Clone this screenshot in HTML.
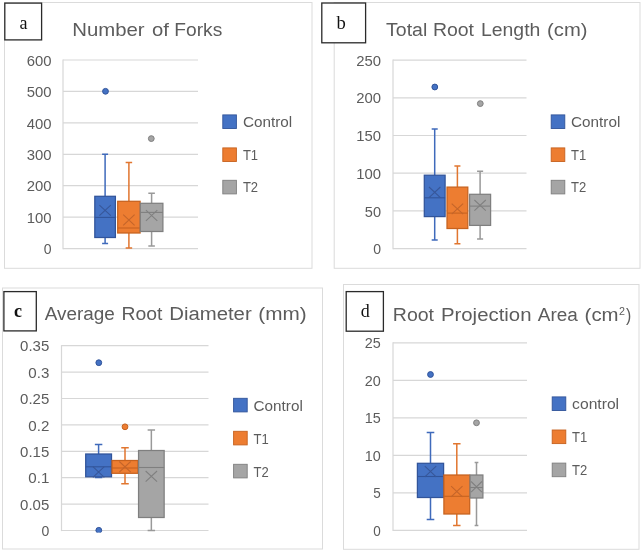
<!DOCTYPE html>
<html><head><meta charset="utf-8"><title>Root trait box plots</title>
<style>
html,body{margin:0;padding:0;background:#fff;}
body{width:642px;height:553px;overflow:hidden;font-family:"Liberation Sans",sans-serif;}
svg{display:block;will-change:transform;}
</style></head><body>
<svg width="642" height="553" viewBox="0 0 642 553">
<rect width="642" height="553" fill="#fff"/>
<defs><clipPath id="cc"><rect x="90" y="520" width="20" height="12.4"/></clipPath></defs>
<rect x="4.5" y="2.5" width="307.5" height="265.8" fill="#fff" stroke="#dbdbdb" stroke-width="1"/>
<rect x="4.8" y="3.1" width="36.8" height="36.8" fill="#fff" stroke="#2a2a2a" stroke-width="1.3"/>
<text x="23.6" y="28.9" font-size="18" font-family="Liberation Serif, serif" fill="#111" text-anchor="middle">a</text>
<text x="72.23" y="36.1" font-size="19.0" font-family="Liberation Sans, sans-serif" fill="#5c5c5c" text-anchor="start" textLength="72.39" lengthAdjust="spacingAndGlyphs">Number</text>
<text x="151.95" y="36.1" font-size="19.0" font-family="Liberation Sans, sans-serif" fill="#5c5c5c" text-anchor="start" textLength="16.91" lengthAdjust="spacingAndGlyphs">of</text>
<text x="174.33" y="36.1" font-size="19.0" font-family="Liberation Sans, sans-serif" fill="#5c5c5c" text-anchor="start" textLength="47.96" lengthAdjust="spacingAndGlyphs">Forks</text>
<path d="M63 60.0H198" stroke="#d7d7d7" stroke-width="1.2"/>
<path d="M63 91.43H198" stroke="#d7d7d7" stroke-width="1.2"/>
<path d="M63 122.86H198" stroke="#d7d7d7" stroke-width="1.2"/>
<path d="M63 154.29H198" stroke="#d7d7d7" stroke-width="1.2"/>
<path d="M63 185.72H198" stroke="#d7d7d7" stroke-width="1.2"/>
<path d="M63 217.15H198" stroke="#d7d7d7" stroke-width="1.2"/>
<path d="M63 248.58H198" stroke="#d7d7d7" stroke-width="1.2"/>
<path d="M63 59.4V249.18" stroke="#d7d7d7" stroke-width="1.2"/>
<text x="51.5" y="65.68" font-size="14.2" font-family="Liberation Sans, sans-serif" fill="#5c5c5c" text-anchor="end" textLength="24.8" lengthAdjust="spacingAndGlyphs">600</text>
<text x="51.5" y="97.11" font-size="14.2" font-family="Liberation Sans, sans-serif" fill="#5c5c5c" text-anchor="end" textLength="24.8" lengthAdjust="spacingAndGlyphs">500</text>
<text x="51.5" y="128.54" font-size="14.2" font-family="Liberation Sans, sans-serif" fill="#5c5c5c" text-anchor="end" textLength="24.8" lengthAdjust="spacingAndGlyphs">400</text>
<text x="51.5" y="159.97" font-size="14.2" font-family="Liberation Sans, sans-serif" fill="#5c5c5c" text-anchor="end" textLength="24.8" lengthAdjust="spacingAndGlyphs">300</text>
<text x="51.5" y="191.4" font-size="14.2" font-family="Liberation Sans, sans-serif" fill="#5c5c5c" text-anchor="end" textLength="24.8" lengthAdjust="spacingAndGlyphs">200</text>
<text x="51.5" y="222.83" font-size="14.2" font-family="Liberation Sans, sans-serif" fill="#5c5c5c" text-anchor="end" textLength="24.8" lengthAdjust="spacingAndGlyphs">100</text>
<text x="51.5" y="254.26" font-size="14.2" font-family="Liberation Sans, sans-serif" fill="#5c5c5c" text-anchor="end" textLength="7.8" lengthAdjust="spacingAndGlyphs">0</text>
<path d="M105.1 154.3V196.3M105.1 237.5V243.5M102.11 154.3H108.09M102.11 243.5H108.09" stroke="#3f6abb" stroke-width="1.5" fill="none"/>
<rect x="94.8" y="196.3" width="20.6" height="41.2" fill="#4472c4" stroke="#31549a" stroke-width="1.25"/>
<path d="M94.8 217.4H115.4" stroke="#31549a" stroke-width="1.1"/>
<path d="M99.4 205.1L110.8 215.7M99.4 215.7L110.8 205.1" stroke="#37579a" stroke-width="1.1" fill="none"/>
<circle cx="105.5" cy="91.3" r="2.9" fill="#4472c4" stroke="#31549a" stroke-width="1"/>
<path d="M128.9 162.4V201.3M128.9 233V248M125.65 162.4H132.15M125.65 248H132.15" stroke="#e1762f" stroke-width="1.5" fill="none"/>
<rect x="117.7" y="201.3" width="22.4" height="31.7" fill="#ed7d31" stroke="#c6621f" stroke-width="1.25"/>
<path d="M117.7 228H140.1" stroke="#c6621f" stroke-width="1.1"/>
<path d="M123.2 214.7L134.6 225.3M123.2 225.3L134.6 214.7" stroke="#c4652a" stroke-width="1.1" fill="none"/>
<path d="M151.6 193.3V203.3M151.6 231.5V246M148.32 193.3H154.88M148.32 246H154.88" stroke="#999999" stroke-width="1.5" fill="none"/>
<rect x="140.3" y="203.3" width="22.6" height="28.2" fill="#a5a5a5" stroke="#7f7f7f" stroke-width="1.25"/>
<path d="M140.3 212.4H162.9" stroke="#7f7f7f" stroke-width="1.1"/>
<path d="M145.9 210.2L157.3 220.8M145.9 220.8L157.3 210.2" stroke="#808080" stroke-width="1.1" fill="none"/>
<circle cx="151.3" cy="138.6" r="2.9" fill="#a5a5a5" stroke="#7f7f7f" stroke-width="1"/>
<rect x="222.8" y="114.9" width="13.6" height="13.6" fill="#4472c4" stroke="#31549a" stroke-width="0.9"/>
<text x="242.9" y="126.7" font-size="15.3" font-family="Liberation Sans, sans-serif" fill="#5c5c5c" text-anchor="start" textLength="49.2" lengthAdjust="spacingAndGlyphs">Control</text>
<rect x="222.8" y="147.9" width="13.6" height="13.6" fill="#ed7d31" stroke="#c6621f" stroke-width="0.9"/>
<text x="242.9" y="159.7" font-size="15.3" font-family="Liberation Sans, sans-serif" fill="#5c5c5c" text-anchor="start" textLength="15.2" lengthAdjust="spacingAndGlyphs">T1</text>
<rect x="222.8" y="180.3" width="13.6" height="13.6" fill="#a5a5a5" stroke="#7f7f7f" stroke-width="0.9"/>
<text x="242.9" y="192.1" font-size="15.3" font-family="Liberation Sans, sans-serif" fill="#5c5c5c" text-anchor="start" textLength="15.2" lengthAdjust="spacingAndGlyphs">T2</text>
<rect x="334.2" y="2.5" width="305.8" height="265.8" fill="#fff" stroke="#dbdbdb" stroke-width="1"/>
<rect x="321.8" y="3.0" width="43.8" height="39.8" fill="#fff" stroke="#2a2a2a" stroke-width="1.3"/>
<text x="341.2" y="28.7" font-size="18.6" font-family="Liberation Serif, serif" fill="#111" text-anchor="middle">b</text>
<text x="386.07" y="36" font-size="19.2" font-family="Liberation Sans, sans-serif" fill="#5c5c5c" text-anchor="start" textLength="41.22" lengthAdjust="spacingAndGlyphs">Total</text>
<text x="432.9" y="36" font-size="19.2" font-family="Liberation Sans, sans-serif" fill="#5c5c5c" text-anchor="start" textLength="41.14" lengthAdjust="spacingAndGlyphs">Root</text>
<text x="480.91" y="36" font-size="19.2" font-family="Liberation Sans, sans-serif" fill="#5c5c5c" text-anchor="start" textLength="59.45" lengthAdjust="spacingAndGlyphs">Length</text>
<text x="547.05" y="36" font-size="19.2" font-family="Liberation Sans, sans-serif" fill="#5c5c5c" text-anchor="start" textLength="40.41" lengthAdjust="spacingAndGlyphs">(cm)</text>
<path d="M393 60.1H526.5" stroke="#d7d7d7" stroke-width="1.2"/>
<path d="M393 97.8H526.5" stroke="#d7d7d7" stroke-width="1.2"/>
<path d="M393 135.5H526.5" stroke="#d7d7d7" stroke-width="1.2"/>
<path d="M393 173.2H526.5" stroke="#d7d7d7" stroke-width="1.2"/>
<path d="M393 210.9H526.5" stroke="#d7d7d7" stroke-width="1.2"/>
<path d="M393 248.6H526.5" stroke="#d7d7d7" stroke-width="1.2"/>
<path d="M393 59.5V249.2" stroke="#d7d7d7" stroke-width="1.2"/>
<text x="381" y="65.78" font-size="14.2" font-family="Liberation Sans, sans-serif" fill="#5c5c5c" text-anchor="end" textLength="24.8" lengthAdjust="spacingAndGlyphs">250</text>
<text x="381" y="103.48" font-size="14.2" font-family="Liberation Sans, sans-serif" fill="#5c5c5c" text-anchor="end" textLength="24.8" lengthAdjust="spacingAndGlyphs">200</text>
<text x="381" y="141.18" font-size="14.2" font-family="Liberation Sans, sans-serif" fill="#5c5c5c" text-anchor="end" textLength="24.8" lengthAdjust="spacingAndGlyphs">150</text>
<text x="381" y="178.88" font-size="14.2" font-family="Liberation Sans, sans-serif" fill="#5c5c5c" text-anchor="end" textLength="24.8" lengthAdjust="spacingAndGlyphs">100</text>
<text x="381" y="216.58" font-size="14.2" font-family="Liberation Sans, sans-serif" fill="#5c5c5c" text-anchor="end" textLength="16.2" lengthAdjust="spacingAndGlyphs">50</text>
<text x="381" y="254.28" font-size="14.2" font-family="Liberation Sans, sans-serif" fill="#5c5c5c" text-anchor="end" textLength="7.8" lengthAdjust="spacingAndGlyphs">0</text>
<path d="M434.7 128.9V175.2M434.7 216.6V240M431.68 128.9H437.72M431.68 240H437.72" stroke="#3f6abb" stroke-width="1.5" fill="none"/>
<rect x="424.3" y="175.2" width="20.8" height="41.4" fill="#4472c4" stroke="#31549a" stroke-width="1.25"/>
<path d="M424.3 197.8H445.1" stroke="#31549a" stroke-width="1.1"/>
<path d="M429.0 187.0L440.4 197.6M429.0 197.6L440.4 187.0" stroke="#37579a" stroke-width="1.1" fill="none"/>
<circle cx="434.8" cy="87" r="2.9" fill="#4472c4" stroke="#31549a" stroke-width="1"/>
<path d="M457.4 165.9V187.1M457.4 228.5V243.8M454.38 165.9H460.42M454.38 243.8H460.42" stroke="#e1762f" stroke-width="1.5" fill="none"/>
<rect x="447.0" y="187.1" width="20.8" height="41.4" fill="#ed7d31" stroke="#c6621f" stroke-width="1.25"/>
<path d="M447.0 213.1H467.8" stroke="#c6621f" stroke-width="1.1"/>
<path d="M451.7 203.6L463.1 214.2M451.7 214.2L463.1 203.6" stroke="#c4652a" stroke-width="1.1" fill="none"/>
<path d="M480.1 171.2V194.3M480.1 225.4V239M477.06 171.2H483.14M477.06 239H483.14" stroke="#999999" stroke-width="1.5" fill="none"/>
<rect x="469.6" y="194.3" width="21.0" height="31.1" fill="#a5a5a5" stroke="#7f7f7f" stroke-width="1.25"/>
<path d="M469.6 206.1H490.6" stroke="#7f7f7f" stroke-width="1.1"/>
<path d="M474.4 200.0L485.8 210.6M474.4 210.6L485.8 200.0" stroke="#808080" stroke-width="1.1" fill="none"/>
<circle cx="480.3" cy="103.6" r="2.9" fill="#a5a5a5" stroke="#7f7f7f" stroke-width="1"/>
<rect x="551.2" y="114.9" width="13.6" height="13.6" fill="#4472c4" stroke="#31549a" stroke-width="0.9"/>
<text x="571.1" y="126.7" font-size="15.3" font-family="Liberation Sans, sans-serif" fill="#5c5c5c" text-anchor="start" textLength="49.2" lengthAdjust="spacingAndGlyphs">Control</text>
<rect x="551.2" y="147.9" width="13.6" height="13.6" fill="#ed7d31" stroke="#c6621f" stroke-width="0.9"/>
<text x="571.1" y="159.7" font-size="15.3" font-family="Liberation Sans, sans-serif" fill="#5c5c5c" text-anchor="start" textLength="15.2" lengthAdjust="spacingAndGlyphs">T1</text>
<rect x="551.2" y="180.3" width="13.6" height="13.6" fill="#a5a5a5" stroke="#7f7f7f" stroke-width="0.9"/>
<text x="571.1" y="192.1" font-size="15.3" font-family="Liberation Sans, sans-serif" fill="#5c5c5c" text-anchor="start" textLength="15.2" lengthAdjust="spacingAndGlyphs">T2</text>
<rect x="2.5" y="288" width="320.0" height="261" fill="#fff" stroke="#dbdbdb" stroke-width="1"/>
<rect x="3.9" y="291.6" width="32.4" height="39.3" fill="#fff" stroke="#2a2a2a" stroke-width="1.3"/>
<text x="18.1" y="317" font-size="18" font-family="Liberation Serif, serif" fill="#111" text-anchor="middle" font-weight="bold">c</text>
<text x="44.76" y="320.2" font-size="19.2" font-family="Liberation Sans, sans-serif" fill="#5c5c5c" text-anchor="start" textLength="70.08" lengthAdjust="spacingAndGlyphs">Average</text>
<text x="121.51" y="320.2" font-size="19.2" font-family="Liberation Sans, sans-serif" fill="#5c5c5c" text-anchor="start" textLength="40.93" lengthAdjust="spacingAndGlyphs">Root</text>
<text x="169.23" y="320.2" font-size="19.2" font-family="Liberation Sans, sans-serif" fill="#5c5c5c" text-anchor="start" textLength="82.49" lengthAdjust="spacingAndGlyphs">Diameter</text>
<text x="258.31" y="320.2" font-size="19.2" font-family="Liberation Sans, sans-serif" fill="#5c5c5c" text-anchor="start" textLength="48.37" lengthAdjust="spacingAndGlyphs">(mm)</text>
<path d="M61.5 345.7H208.5" stroke="#d7d7d7" stroke-width="1.2"/>
<path d="M61.5 372.1H208.5" stroke="#d7d7d7" stroke-width="1.2"/>
<path d="M61.5 398.5H208.5" stroke="#d7d7d7" stroke-width="1.2"/>
<path d="M61.5 424.9H208.5" stroke="#d7d7d7" stroke-width="1.2"/>
<path d="M61.5 451.3H208.5" stroke="#d7d7d7" stroke-width="1.2"/>
<path d="M61.5 477.7H208.5" stroke="#d7d7d7" stroke-width="1.2"/>
<path d="M61.5 504.1H208.5" stroke="#d7d7d7" stroke-width="1.2"/>
<path d="M61.5 530.5H208.5" stroke="#d7d7d7" stroke-width="1.2"/>
<path d="M61.5 345.1V531.1" stroke="#d7d7d7" stroke-width="1.2"/>
<text x="49.3" y="351.38" font-size="14.2" font-family="Liberation Sans, sans-serif" fill="#5c5c5c" text-anchor="end" textLength="29.2" lengthAdjust="spacingAndGlyphs">0.35</text>
<text x="49.3" y="377.78" font-size="14.2" font-family="Liberation Sans, sans-serif" fill="#5c5c5c" text-anchor="end" textLength="21" lengthAdjust="spacingAndGlyphs">0.3</text>
<text x="49.3" y="404.18" font-size="14.2" font-family="Liberation Sans, sans-serif" fill="#5c5c5c" text-anchor="end" textLength="29.2" lengthAdjust="spacingAndGlyphs">0.25</text>
<text x="49.3" y="430.58" font-size="14.2" font-family="Liberation Sans, sans-serif" fill="#5c5c5c" text-anchor="end" textLength="21" lengthAdjust="spacingAndGlyphs">0.2</text>
<text x="49.3" y="456.98" font-size="14.2" font-family="Liberation Sans, sans-serif" fill="#5c5c5c" text-anchor="end" textLength="29.2" lengthAdjust="spacingAndGlyphs">0.15</text>
<text x="49.3" y="483.38" font-size="14.2" font-family="Liberation Sans, sans-serif" fill="#5c5c5c" text-anchor="end" textLength="21" lengthAdjust="spacingAndGlyphs">0.1</text>
<text x="49.3" y="509.78" font-size="14.2" font-family="Liberation Sans, sans-serif" fill="#5c5c5c" text-anchor="end" textLength="29.2" lengthAdjust="spacingAndGlyphs">0.05</text>
<text x="49.3" y="536.18" font-size="14.2" font-family="Liberation Sans, sans-serif" fill="#5c5c5c" text-anchor="end" textLength="7.8" lengthAdjust="spacingAndGlyphs">0</text>
<path d="M98.6 444.5V454M98.6 476.8V477.5M94.86 444.5H102.34M94.86 477.5H102.34" stroke="#3f6abb" stroke-width="1.5" fill="none"/>
<rect x="85.7" y="454" width="25.8" height="22.8" fill="#4472c4" stroke="#31549a" stroke-width="1.25"/>
<path d="M85.7 466.8H111.5" stroke="#31549a" stroke-width="1.1"/>
<path d="M92.9 466.7L104.3 477.3M92.9 477.3L104.3 466.7" stroke="#37579a" stroke-width="1.1" fill="none"/>
<circle cx="98.8" cy="362.7" r="2.9" fill="#4472c4" stroke="#31549a" stroke-width="1"/>
<circle cx="98.8" cy="530.3" r="2.9" fill="#4472c4" stroke="#31549a" stroke-width="1" clip-path="url(#cc)"/>
<path d="M125 447.8V460.5M125 473.3V483.8M121.23 447.8H128.77M121.23 483.8H128.77" stroke="#e1762f" stroke-width="1.5" fill="none"/>
<rect x="112" y="460.5" width="26" height="12.8" fill="#ed7d31" stroke="#c6621f" stroke-width="1.25"/>
<path d="M112 468H138" stroke="#c6621f" stroke-width="1.1"/>
<path d="M119.3 461.5L130.7 472.1M119.3 472.1L130.7 461.5" stroke="#c4652a" stroke-width="1.1" fill="none"/>
<circle cx="125" cy="426.8" r="2.9" fill="#ed7d31" stroke="#c6621f" stroke-width="1"/>
<path d="M151.35 430V450.5M151.35 517.5V530.5M147.64 430H155.06M147.64 530.5H155.06" stroke="#999999" stroke-width="1.5" fill="none"/>
<rect x="138.55" y="450.5" width="25.6" height="67.0" fill="#a5a5a5" stroke="#7f7f7f" stroke-width="1.25"/>
<path d="M138.55 467.5H164.15" stroke="#7f7f7f" stroke-width="1.1"/>
<path d="M145.65 471.0L157.05 481.6M145.65 481.6L157.05 471.0" stroke="#808080" stroke-width="1.1" fill="none"/>
<rect x="233.6" y="398.3" width="13.6" height="13.6" fill="#4472c4" stroke="#31549a" stroke-width="0.9"/>
<text x="253.6" y="410.6" font-size="15.3" font-family="Liberation Sans, sans-serif" fill="#5c5c5c" text-anchor="start" textLength="49.2" lengthAdjust="spacingAndGlyphs">Control</text>
<rect x="233.6" y="431.3" width="13.6" height="13.6" fill="#ed7d31" stroke="#c6621f" stroke-width="0.9"/>
<text x="253.6" y="443.6" font-size="15.3" font-family="Liberation Sans, sans-serif" fill="#5c5c5c" text-anchor="start" textLength="15.2" lengthAdjust="spacingAndGlyphs">T1</text>
<rect x="233.6" y="464.3" width="13.6" height="13.6" fill="#a5a5a5" stroke="#7f7f7f" stroke-width="0.9"/>
<text x="253.6" y="476.6" font-size="15.3" font-family="Liberation Sans, sans-serif" fill="#5c5c5c" text-anchor="start" textLength="15.2" lengthAdjust="spacingAndGlyphs">T2</text>
<rect x="343.5" y="284.5" width="295.5" height="264.8" fill="#fff" stroke="#dbdbdb" stroke-width="1"/>
<rect x="346.2" y="291.6" width="37.2" height="39.6" fill="#fff" stroke="#2a2a2a" stroke-width="1.3"/>
<text x="365.3" y="316.9" font-size="18" font-family="Liberation Serif, serif" fill="#111" text-anchor="middle">d</text>
<text x="392.8" y="321.2" font-size="19.2" font-family="Liberation Sans, sans-serif" fill="#5c5c5c" text-anchor="start" textLength="41.24" lengthAdjust="spacingAndGlyphs">Root</text>
<text x="440.93" y="321.2" font-size="19.2" font-family="Liberation Sans, sans-serif" fill="#5c5c5c" text-anchor="start" textLength="90.57" lengthAdjust="spacingAndGlyphs">Projection</text>
<text x="537.76" y="321.2" font-size="19.2" font-family="Liberation Sans, sans-serif" fill="#5c5c5c" text-anchor="start" textLength="40.03" lengthAdjust="spacingAndGlyphs">Area</text>
<text x="584.64" y="321.2" font-size="19.2" font-family="Liberation Sans, sans-serif" fill="#5c5c5c" text-anchor="start" textLength="33.99" lengthAdjust="spacingAndGlyphs">(cm</text>
<text x="626.02" y="321.2" font-size="19.2" font-family="Liberation Sans, sans-serif" fill="#5c5c5c" text-anchor="start" textLength="5.26" lengthAdjust="spacingAndGlyphs">)</text>
<text x="618.96" y="314.7" font-size="10.4" font-family="Liberation Sans, sans-serif" fill="#5c5c5c" text-anchor="start" textLength="5.98" lengthAdjust="spacingAndGlyphs">2</text>
<path d="M393 342.8H527" stroke="#d7d7d7" stroke-width="1.2"/>
<path d="M393 380.3H527" stroke="#d7d7d7" stroke-width="1.2"/>
<path d="M393 417.8H527" stroke="#d7d7d7" stroke-width="1.2"/>
<path d="M393 455.3H527" stroke="#d7d7d7" stroke-width="1.2"/>
<path d="M393 492.8H527" stroke="#d7d7d7" stroke-width="1.2"/>
<path d="M393 530.3H527" stroke="#d7d7d7" stroke-width="1.2"/>
<path d="M393 342.2V530.9" stroke="#d7d7d7" stroke-width="1.2"/>
<text x="380.7" y="348.48" font-size="14.2" font-family="Liberation Sans, sans-serif" fill="#5c5c5c" text-anchor="end" textLength="16" lengthAdjust="spacingAndGlyphs">25</text>
<text x="380.7" y="385.98" font-size="14.2" font-family="Liberation Sans, sans-serif" fill="#5c5c5c" text-anchor="end" textLength="16" lengthAdjust="spacingAndGlyphs">20</text>
<text x="380.7" y="423.48" font-size="14.2" font-family="Liberation Sans, sans-serif" fill="#5c5c5c" text-anchor="end" textLength="16" lengthAdjust="spacingAndGlyphs">15</text>
<text x="380.7" y="460.98" font-size="14.2" font-family="Liberation Sans, sans-serif" fill="#5c5c5c" text-anchor="end" textLength="16" lengthAdjust="spacingAndGlyphs">10</text>
<text x="380.7" y="498.48" font-size="14.2" font-family="Liberation Sans, sans-serif" fill="#5c5c5c" text-anchor="end" textLength="7.5" lengthAdjust="spacingAndGlyphs">5</text>
<text x="380.7" y="535.98" font-size="14.2" font-family="Liberation Sans, sans-serif" fill="#5c5c5c" text-anchor="end" textLength="7.5" lengthAdjust="spacingAndGlyphs">0</text>
<path d="M430.5 432.5V463.3M430.5 497.5V519.5M426.7 432.5H434.3M426.7 519.5H434.3" stroke="#3f6abb" stroke-width="1.5" fill="none"/>
<rect x="417.4" y="463.3" width="26.2" height="34.2" fill="#4472c4" stroke="#31549a" stroke-width="1.25"/>
<path d="M417.4 476.5H443.6" stroke="#31549a" stroke-width="1.1"/>
<path d="M424.8 466.2L436.2 476.8M424.8 476.8L436.2 466.2" stroke="#37579a" stroke-width="1.1" fill="none"/>
<circle cx="430.5" cy="374.5" r="2.9" fill="#4472c4" stroke="#31549a" stroke-width="1"/>
<path d="M456.8 443.8V475M456.8 514V525.5M453.06 443.8H460.54M453.06 525.5H460.54" stroke="#e1762f" stroke-width="1.5" fill="none"/>
<rect x="443.9" y="475" width="25.8" height="39" fill="#ed7d31" stroke="#c6621f" stroke-width="1.25"/>
<path d="M443.9 496.3H469.7" stroke="#c6621f" stroke-width="1.1"/>
<path d="M451.1 486.2L462.5 496.8M451.1 496.8L462.5 486.2" stroke="#c4652a" stroke-width="1.1" fill="none"/>
<path d="M476.5 462.5V475M476.5 498V525.5M474.64 462.5H478.36M474.64 525.5H478.36" stroke="#999999" stroke-width="1.5" fill="none"/>
<rect x="470.1" y="475" width="12.8" height="23" fill="#a5a5a5" stroke="#7f7f7f" stroke-width="1.25"/>
<path d="M470.1 487.5H482.9" stroke="#7f7f7f" stroke-width="1.1"/>
<path d="M471.1 481.5L481.9 492.1M471.1 492.1L481.9 481.5" stroke="#808080" stroke-width="1.1" fill="none"/>
<circle cx="476.5" cy="422.8" r="2.9" fill="#a5a5a5" stroke="#7f7f7f" stroke-width="1"/>
<rect x="552.2" y="396.9" width="13.6" height="13.6" fill="#4472c4" stroke="#31549a" stroke-width="0.9"/>
<text x="572.1" y="408.7" font-size="15.3" font-family="Liberation Sans, sans-serif" fill="#5c5c5c" text-anchor="start" textLength="47.0" lengthAdjust="spacingAndGlyphs">control</text>
<rect x="552.2" y="430.0" width="13.6" height="13.6" fill="#ed7d31" stroke="#c6621f" stroke-width="0.9"/>
<text x="572.1" y="441.8" font-size="15.3" font-family="Liberation Sans, sans-serif" fill="#5c5c5c" text-anchor="start" textLength="15.2" lengthAdjust="spacingAndGlyphs">T1</text>
<rect x="552.2" y="463.1" width="13.6" height="13.6" fill="#a5a5a5" stroke="#7f7f7f" stroke-width="0.9"/>
<text x="572.1" y="474.9" font-size="15.3" font-family="Liberation Sans, sans-serif" fill="#5c5c5c" text-anchor="start" textLength="15.2" lengthAdjust="spacingAndGlyphs">T2</text>
</svg>
</body></html>
